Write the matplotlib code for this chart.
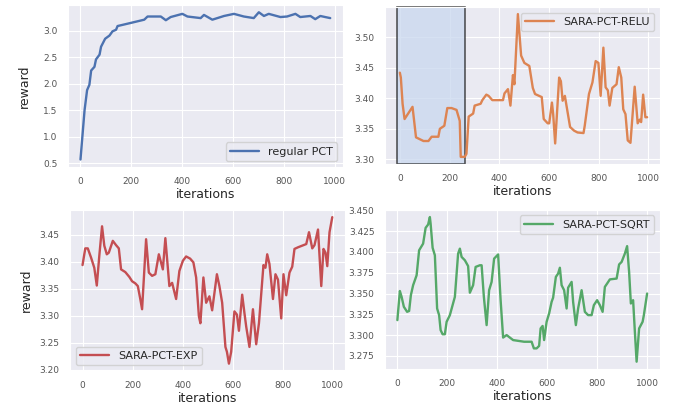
import matplotlib
matplotlib.use("Agg")
import matplotlib.pyplot as plt
import seaborn as sns

# regular PCT
reg_x = [0, 16, 26, 35, 42, 55, 61, 75, 81, 97, 114, 126, 140, 146, 199, 251, 264,
         316, 336, 355, 401, 421, 473, 486, 519, 565, 604, 643, 682, 702, 722, 741,
         787, 813, 846, 865, 905, 924, 944, 963, 983]
reg_y = [0.57, 1.50, 1.88, 1.98, 2.25, 2.32, 2.46, 2.55, 2.70, 2.85, 2.91, 2.99, 3.02,
         3.09, 3.15, 3.21, 3.27, 3.27, 3.20, 3.26, 3.32, 3.27, 3.24, 3.30, 3.21, 3.28,
         3.32, 3.27, 3.24, 3.35, 3.28, 3.32, 3.26, 3.27, 3.32, 3.26, 3.28, 3.22, 3.28,
         3.26, 3.24]

# SARA-PCT-RELU
relu_x = [0, 4, 11, 19, 51, 65, 95, 115, 128, 155, 161, 179, 191, 208, 228, 241, 245,
          261, 268, 277, 295, 301, 325, 332, 348, 357, 372, 415, 421, 435, 445, 455,
          461, 475, 488, 501, 521, 535, 544, 571, 579, 595, 601, 612, 617, 625, 641,
          648, 655, 664, 685, 701, 715, 739, 744, 761, 775, 788, 799, 808, 819, 828,
          837, 844, 855, 872, 881, 891, 899, 908, 917, 928, 945, 957, 965, 971, 979,
          988, 995]
relu_y = [3.442, 3.434, 3.391, 3.366, 3.386, 3.336, 3.330, 3.330, 3.337, 3.337, 3.350,
          3.355, 3.384, 3.384, 3.381, 3.363, 3.304, 3.304, 3.309, 3.370, 3.375, 3.388,
          3.391, 3.397, 3.406, 3.404, 3.397, 3.397, 3.408, 3.415, 3.388, 3.438, 3.423,
          3.538, 3.470, 3.458, 3.453, 3.417, 3.407, 3.402, 3.366, 3.359, 3.359, 3.393,
          3.374, 3.326, 3.434, 3.428, 3.396, 3.404, 3.353, 3.347, 3.344, 3.343, 3.355,
          3.407, 3.426, 3.461, 3.458, 3.404, 3.483, 3.418, 3.413, 3.388, 3.417, 3.423,
          3.451, 3.434, 3.382, 3.374, 3.331, 3.327, 3.419, 3.359, 3.365, 3.361, 3.406,
          3.369, 3.369]

# SARA-PCT-EXP
exp_x = [0, 11, 21, 34, 47, 57, 67, 78, 87, 97, 105, 121, 134, 145, 154, 171, 187,
         198, 211, 221, 230, 238, 254, 265, 278, 291, 305, 321, 331, 347, 358, 374,
         387, 401, 414, 430, 443, 454, 465, 471, 483, 494, 507, 518, 537, 547, 558,
         571, 577, 585, 594, 607, 617, 625, 638, 647, 654, 667, 681, 694, 705, 723,
         731, 738, 747, 761, 771, 781, 794, 803, 814, 827, 838, 847, 861, 894, 905,
         918, 927, 941, 954, 963, 971, 978, 987, 998]
exp_y = [3.394, 3.425, 3.425, 3.408, 3.389, 3.356, 3.411, 3.466, 3.430, 3.414, 3.417,
         3.439, 3.431, 3.425, 3.386, 3.381, 3.372, 3.364, 3.360, 3.355, 3.333, 3.312,
         3.442, 3.380, 3.374, 3.377, 3.414, 3.386, 3.444, 3.355, 3.361, 3.331, 3.383,
         3.402, 3.410, 3.406, 3.399, 3.371, 3.299, 3.286, 3.371, 3.324, 3.336, 3.310,
         3.377, 3.355, 3.324, 3.242, 3.233, 3.211, 3.233, 3.308, 3.302, 3.272, 3.339,
         3.305, 3.280, 3.242, 3.312, 3.247, 3.286, 3.394, 3.389, 3.414, 3.396, 3.331,
         3.377, 3.367, 3.295, 3.377, 3.338, 3.380, 3.391, 3.424, 3.427, 3.433, 3.455,
         3.425, 3.431, 3.460, 3.355, 3.424, 3.417, 3.392, 3.455, 3.483]

# SARA-PCT-SQRT
sqrt_x = [0, 10, 17, 26, 39, 47, 54, 63, 77, 87, 103, 113, 123, 130, 133, 141, 150,
          159, 167, 173, 181, 190, 197, 210, 230, 243, 250, 257, 270, 283, 290, 303,
          313, 330, 337, 346, 357, 367, 377, 387, 403, 413, 423, 437, 463, 507, 537,
          546, 557, 567, 573, 581, 587, 597, 607, 617, 623, 634, 643, 650, 657, 667,
          677, 683, 697, 703, 714, 723, 737, 750, 763, 777, 786, 799, 810, 821, 830,
          839, 850, 877, 887, 897, 910, 919, 927, 934, 943, 950, 957, 967, 981, 986,
          999]
sqrt_y = [3.318, 3.353, 3.346, 3.334, 3.328, 3.329, 3.348, 3.360, 3.372, 3.402, 3.410,
          3.429, 3.433, 3.442, 3.434, 3.405, 3.396, 3.332, 3.324, 3.306, 3.301, 3.301,
          3.316, 3.324, 3.346, 3.398, 3.404, 3.394, 3.390, 3.383, 3.351, 3.360, 3.382,
          3.384, 3.384, 3.346, 3.312, 3.354, 3.364, 3.392, 3.397, 3.342, 3.297, 3.300,
          3.294, 3.292, 3.292, 3.284, 3.284, 3.287, 3.308, 3.311, 3.294, 3.316, 3.326,
          3.340, 3.345, 3.370, 3.374, 3.381, 3.360, 3.354, 3.332, 3.357, 3.364, 3.340,
          3.312, 3.332, 3.354, 3.328, 3.324, 3.324, 3.336, 3.342, 3.336, 3.328, 3.358,
          3.362, 3.367, 3.368, 3.385, 3.388, 3.398, 3.407, 3.376, 3.338, 3.342, 3.304,
          3.268, 3.308, 3.316, 3.324, 3.350]

# highlighted window on the RELU panel
span_start, span_end = -10, 262

sns.set_style("darkgrid")
plt.rcParams["font.family"] = ["DejaVu Sans"]

fig = plt.figure(figsize=(6.8, 4.09), dpi=100)
ax_tl = fig.add_axes([0.100, 0.592, 0.404, 0.396])
ax_tr = fig.add_axes([0.566, 0.599, 0.404, 0.384])
ax_bl = fig.add_axes([0.103, 0.093, 0.404, 0.394])
ax_br = fig.add_axes([0.566, 0.098, 0.404, 0.389])

pal = sns.color_palette("deep")
lw = 1.7

ax_tl.plot(reg_x, reg_y, color=pal[0], lw=lw, label="regular PCT")
ax_tr.plot(relu_x, relu_y, color=pal[1], lw=lw, label="SARA-PCT-RELU")
ax_bl.plot(exp_x, exp_y, color=pal[3], lw=lw, label="SARA-PCT-EXP")
ax_br.plot(sqrt_x, sqrt_y, color=pal[2], lw=lw, label="SARA-PCT-SQRT")

# box around the early window (drawn unclipped so its top/bottom edges show)
ax_tr.axvspan(span_start, span_end, ymin=0, ymax=1, facecolor="#c9d8ee", alpha=0.75,
              edgecolor="#111111", lw=1.1, zorder=1.5, clip_on=False)

ax_tl.legend(loc="lower right", fontsize=8, handlelength=2.6)
ax_tr.legend(loc="upper right", fontsize=8, handlelength=2.6)
ax_bl.legend(loc="lower left", fontsize=8, handlelength=2.6)
ax_br.legend(loc="upper right", fontsize=8, handlelength=2.6)

for ax in (ax_tl, ax_tr, ax_bl, ax_br):
    ax.set_xticks([0, 200, 400, 600, 800, 1000])
    ax.tick_params(labelsize=6.5, labelcolor="#555555", pad=4)
    ax.set_xlabel("iterations", fontsize=9, labelpad=1)

ax_tl.set_ylabel("reward", fontsize=9, labelpad=9)
ax_bl.set_ylabel("reward", fontsize=9, labelpad=5)

ax_br.yaxis.set_major_formatter(matplotlib.ticker.FormatStrFormatter("%.3f"))

fig.savefig("out.png", dpi=100)
